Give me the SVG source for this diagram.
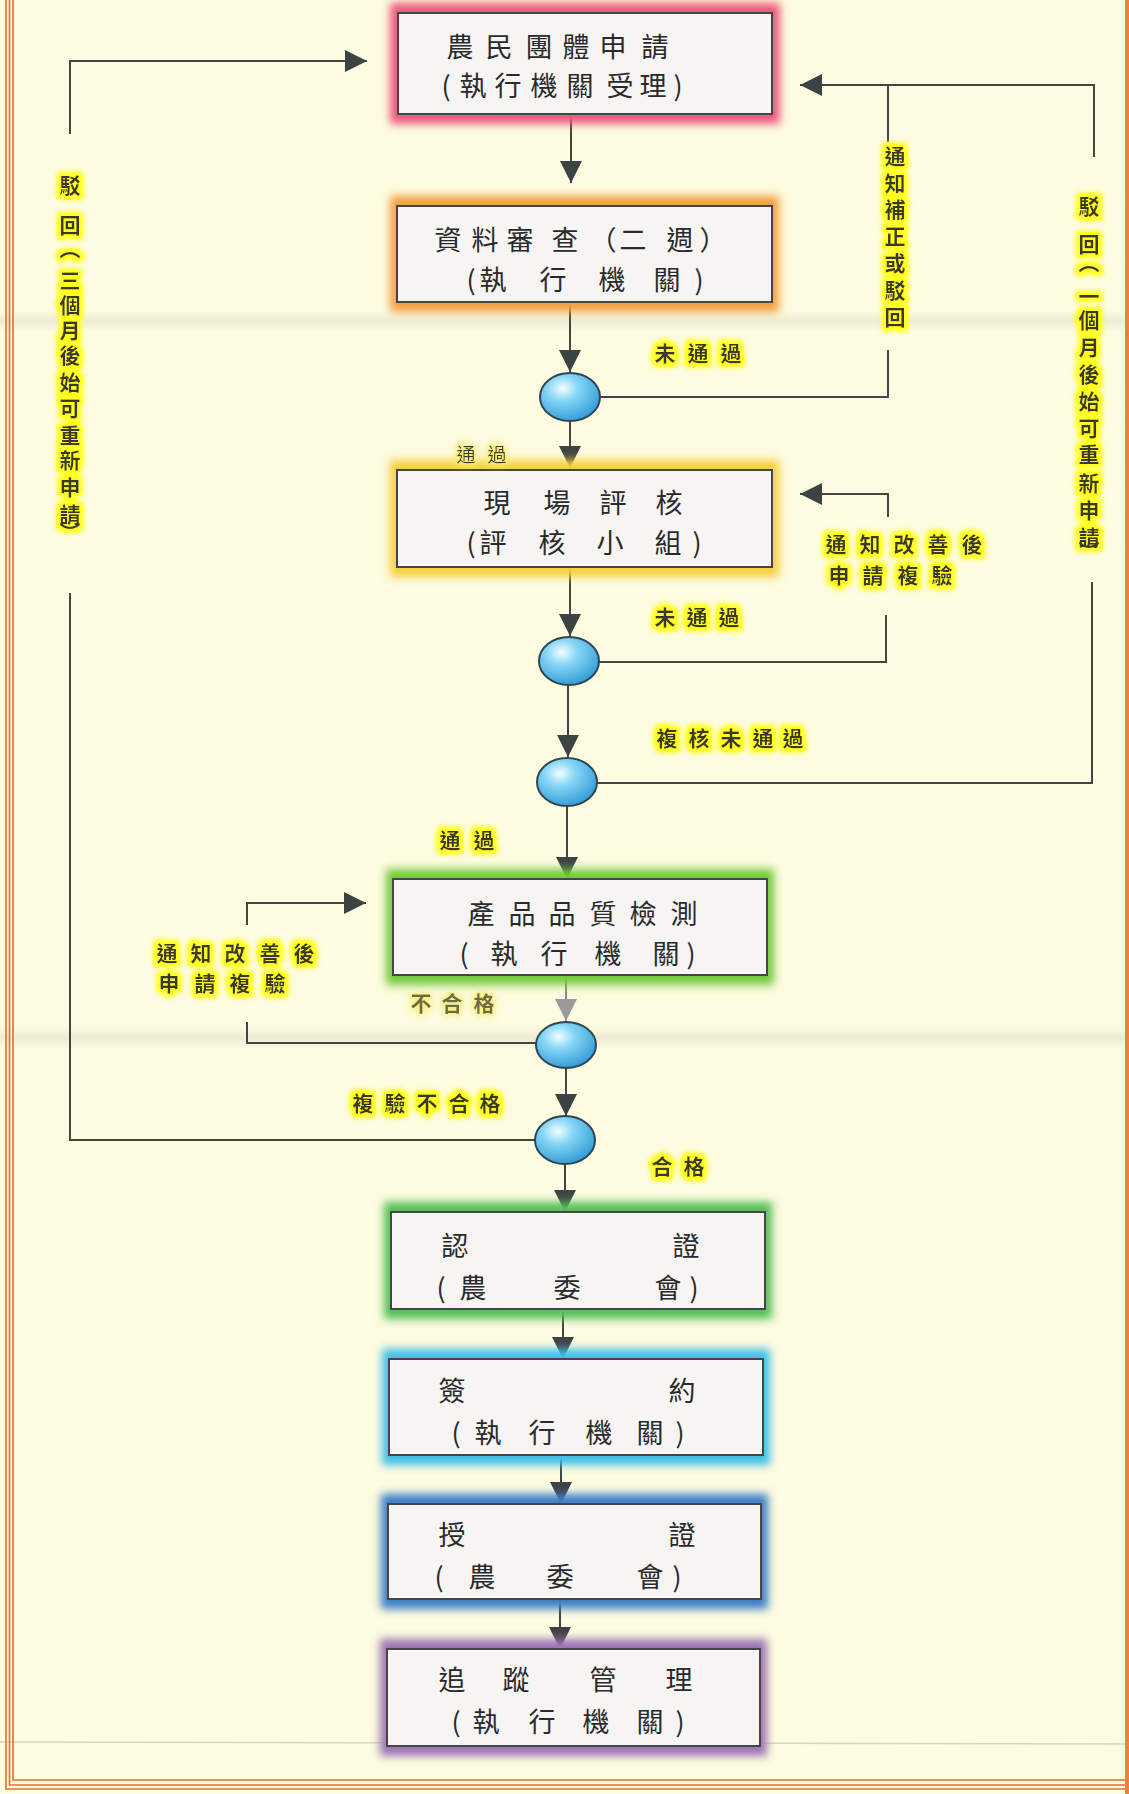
<svg xmlns="http://www.w3.org/2000/svg" width="1129" height="1794" viewBox="0 0 1129 1794">
<defs>
<style>
.bx{fill:#f7f4f4;stroke:#454545;stroke-width:2}
.bt{font-family:"Noto Sans CJK TC","Noto Sans CJK SC",sans-serif;font-size:27px;fill:#2a2a2a;text-anchor:middle}
.lb{font-family:"Noto Sans CJK TC","Noto Sans CJK SC",sans-serif;font-size:21px;font-weight:700;fill:#3a3826;text-anchor:middle}
.vl{font-family:"Noto Sans CJK TC","Noto Sans CJK SC",sans-serif;font-size:21px;font-weight:700;fill:#3a3826;writing-mode:vertical-rl}
.ln{fill:none;stroke:#444;stroke-width:2}
.ar{fill:none;stroke:#444;stroke-width:2;marker-end:url(#ah)}
.bd{fill:none;stroke:#e2702e;stroke-width:1.6}
.dc{stroke:#2f4650;stroke-width:2;fill:url(#ball)}
.gl{filter:url(#glow)}
</style>
<marker id="ah" markerUnits="userSpaceOnUse" markerWidth="24" markerHeight="24" refX="22" refY="11" orient="auto">
<path d="M0,0 L22,11 L0,22 z" fill="#3d4343"/>
</marker>
<marker id="ahf" markerUnits="userSpaceOnUse" markerWidth="24" markerHeight="24" refX="22" refY="11" orient="auto">
<path d="M0,0 L22,11 L0,22 z" fill="#9a9a9a"/>
</marker>
<radialGradient id="ball" cx="0.38" cy="0.32" r="0.75">
<stop offset="0" stop-color="#f4feff"/>
<stop offset="0.35" stop-color="#86d6f6"/>
<stop offset="1" stop-color="#2a96d4"/>
</radialGradient>
<filter id="glow" x="-20%" y="-40%" width="140%" height="180%">
<feGaussianBlur stdDeviation="4.5"/>
</filter>
<filter id="hl" x="-30%" y="-60%" width="160%" height="220%">
<feMorphology in="SourceAlpha" operator="dilate" radius="2.5" result="d"/>
<feGaussianBlur in="d" stdDeviation="2.5" result="b"/>
<feFlood flood-color="#ffff1e"/>
<feComposite in2="b" operator="in" result="g"/>
<feMerge><feMergeNode in="g"/><feMergeNode in="g"/><feMergeNode in="SourceGraphic"/></feMerge>
</filter>
<filter id="hl2" x="-30%" y="-60%" width="160%" height="220%">
<feMorphology in="SourceAlpha" operator="dilate" radius="2" result="d"/>
<feGaussianBlur in="d" stdDeviation="3" result="b"/>
<feFlood flood-color="#f6f07a"/>
<feComposite in2="b" operator="in" result="g"/>
<feMerge><feMergeNode in="g"/><feMergeNode in="SourceGraphic"/></feMerge>
</filter>
<linearGradient id="fold" x1="0" y1="0" x2="0" y2="1">
<stop offset="0" stop-color="#d8d6c4" stop-opacity="0"/>
<stop offset="0.5" stop-color="#d0cec0" stop-opacity="0.35"/>
<stop offset="1" stop-color="#d8d6c4" stop-opacity="0"/>
</linearGradient>
</defs>

<rect x="0" y="0" width="1129" height="1794" fill="#fdfbe0"/>
<rect x="0" y="310" width="1129" height="22" fill="url(#fold)"/>
<rect x="0" y="1026" width="1129" height="24" fill="url(#fold)"/>
<line x1="0" y1="1742" x2="1129" y2="1744" stroke="#d6d4c4" stroke-width="1.5"/>

<g id="border">
<path class="bd" d="M6,0 V1789 H1129"/>
<path class="bd" d="M9.5,0 V1785 H1129"/>
<path class="bd" d="M13,0 V1780 H1129"/>
<rect x="1125" y="0" width="4" height="1794" fill="#e9823a"/>
</g>

<g id="connectors">
<path class="ar" d="M571,114 V183"/>
<path class="ar" d="M570,302 V372"/>
<path class="ar" d="M570,422 V468"/>
<path class="ar" d="M570,567 V636"/>
<path class="ar" d="M568,685 V757"/>
<path class="ar" d="M567,806 V879"/>
<path d="M566,975 V1021" fill="none" stroke="#8a8a8a" stroke-width="2" marker-end="url(#ahf)"/>
<path class="ar" d="M566,1068 V1116"/>
<path class="ar" d="M565,1164 V1212"/>
<path class="ar" d="M563,1309 V1359"/>
<path class="ar" d="M561,1455 V1504"/>
<path class="ar" d="M560,1599 V1649"/>
<path class="ln" d="M600,397 H888 V350"/>
<path class="ln" d="M888,142 V85"/>
<path class="ar" d="M1094,157 V85 H800"/>
<path class="ln" d="M597,783 H1092 V582"/>
<path class="ln" d="M598,662 H886 V615"/>
<path class="ar" d="M888,517 V494 H800"/>
<path class="ln" d="M536,1043 H247 V1022"/>
<path class="ar" d="M247,925 V903 H366"/>
<path class="ln" d="M535,1140 H70 V593"/>
<path class="ar" d="M70,134 V61 H367"/>
</g>

<g id="n1">
<rect class="gl" x="390" y="3" width="390" height="121" fill="#ea5a7c"/>
<rect class="bx" x="398" y="13" width="374" height="101" fill="#f8f2f5"/>
<text class="bt" x="460 499 539 576 613 655" y="57">農民團體申請</text>
<text class="bt" x="446 473 508 544 580 620 653 678" y="96">(執行機關受理)</text>
</g>

<g id="n2">
<rect class="gl" x="390" y="196" width="389" height="116" fill="#f2a040"/>
<rect class="bx" x="397" y="206" width="375" height="96"/>
<text class="bt" x="448 485 520 565 603 633 680 713" y="250">資料審查（二週）</text>
<text class="bt" x="471 493 523 553 583 612 640 667 699" y="290">(執 行 機 關)</text>
</g>

<g id="n3">
<rect class="gl" x="390" y="460" width="389" height="117" fill="#f6cf3a"/>
<rect class="bx" x="397" y="470" width="375" height="97"/>
<text class="bt" x="497 527 557 585 613 641 669" y="513">現 場 評 核</text>
<text class="bt" x="471 493 522 552 581 610 639 668 697" y="553">(評 核 小 組)</text>
</g>

<g id="n4">
<rect class="gl" x="386" y="869" width="388" height="116" fill="#74c93e"/>
<rect class="bx" x="393" y="879" width="374" height="96"/>
<text class="bt" x="481 522 562 603 643 684" y="924">產品品質檢測</text>
<text class="bt" x="464 504 529 554 581 608 637 666 691" y="964">(執 行 機 關)</text>
</g>

<g id="n5">
<rect class="gl" x="384" y="1202" width="388" height="117" fill="#52c058"/>
<rect class="bx" x="391" y="1212" width="374" height="97"/>
<text class="bt" x="455 686" y="1256">認證</text>
<text class="bt" x="441 473 567 668 694" y="1298">(農委會)</text>
</g>

<g id="n6">
<rect class="gl" x="382" y="1349" width="388" height="116" fill="#3cbfe8"/>
<rect class="bx" x="389" y="1359" width="374" height="96"/>
<text class="bt" x="452 682" y="1401">簽約</text>
<text class="bt" x="456 488 515 542 570 599 625 650 680" y="1443">(執 行 機 關)</text>
</g>

<g id="n7">
<rect class="gl" x="381" y="1494" width="387" height="115" fill="#3a7fc6"/>
<rect class="bx" x="388" y="1504" width="373" height="95"/>
<text class="bt" x="452 682" y="1545">授證</text>
<text class="bt" x="439 482 560 650 677" y="1587">(農委會)</text>
</g>

<g id="n8">
<rect class="gl" x="380" y="1639" width="387" height="117" fill="#9c72b4"/>
<rect class="bx" x="387" y="1649" width="373" height="97"/>
<text class="bt" x="452 484 516 560 603 641 679" y="1690">追 蹤 管 理</text>
<text class="bt" x="456 486 514 542 569 596 623 650 680" y="1732">(執 行 機 關)</text>
</g>

<g id="d1"><ellipse class="dc" cx="570" cy="397" rx="30" ry="24"/></g>
<g id="d2"><ellipse class="dc" cx="569" cy="661" rx="30" ry="24"/></g>
<g id="d3"><ellipse class="dc" cx="567" cy="782" rx="30" ry="24"/></g>
<g id="d4"><ellipse class="dc" cx="566" cy="1045" rx="30" ry="23"/></g>
<g id="d5"><ellipse class="dc" cx="565" cy="1140" rx="30" ry="24"/></g>

<g id="labels">
<text class="lb" filter="url(#hl)" x="665 698 731" y="361">未通過</text>
<text class="lb" filter="url(#hl2)" x="466 497" y="462" style="font-size:19px;font-weight:400">通過</text>
<text class="lb" filter="url(#hl)" x="665 697 729" y="625">未通過</text>
<text class="lb" filter="url(#hl)" x="667 699 731 763 793" y="746">複核未通過</text>
<text class="lb" filter="url(#hl)" x="450 484" y="848">通過</text>
<text class="lb" filter="url(#hl)" x="836 870 904 938 972" y="552">通知改善後</text>
<text class="lb" filter="url(#hl)" x="839 873 908 942" y="583">申請複驗</text>
<text class="lb" filter="url(#hl)" x="167 201 235 270 304" y="961">通知改善後</text>
<text class="lb" filter="url(#hl)" x="169 205 240 275" y="991">申請複驗</text>
<text class="lb" filter="url(#hl2)" x="421 452 484" y="1011" style="fill:#6e6a4a">不合格</text>
<text class="lb" filter="url(#hl)" x="363 395 427 459 490" y="1111">複驗不合格</text>
<text class="lb" filter="url(#hl)" x="662 694" y="1174">合格</text>
<text class="vl" filter="url(#hl)" x="70" y="175 215 238 270 295 320 345 372 398 425 450 477 504 522">駁回（三個月後始可重新申請）</text>
<text class="vl" filter="url(#hl)" x="1089" y="196 234 252 286 310 337 364 391 418 444 473 500 527 541">駁回（一個月後始可重新申請）</text>
<text class="vl" filter="url(#hl)" x="895" y="146 173 199 226 253 280 307">通知補正或駁回</text>
</g>
</svg>
